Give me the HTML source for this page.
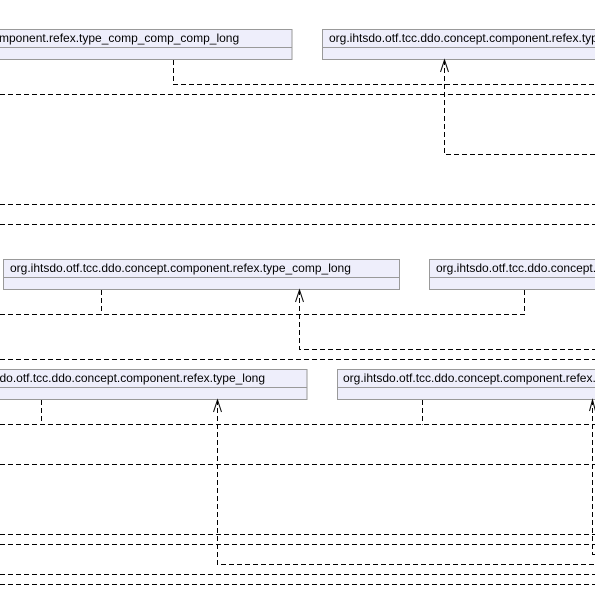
<!DOCTYPE html>
<html><head><meta charset="utf-8"><style>
html,body{margin:0;padding:0;background:#fff;width:595px;height:589px;overflow:hidden}
svg{display:block}
text{font-family:"Liberation Sans",Arial,sans-serif;font-size:12px;fill:#000}
.b{fill:#eeeefb;stroke:#999;stroke-width:1}
.d{fill:none;stroke:#000;stroke-width:1;stroke-dasharray:5,3}
.a{fill:none;stroke:#000;stroke-width:1}
</style></head><body>
<svg width="595" height="589" viewBox="0 0 595 589" xmlns="http://www.w3.org/2000/svg">
<rect class="b" x="-160" y="29.5" width="452" height="30"/>
<line x1="-160" y1="47.5" x2="292" y2="47.5" stroke="#999"/>
<text x="-1" y="42">mponent.refex.type_comp_comp_comp_long</text>
<rect class="b" x="322.5" y="29.5" width="400" height="30"/>
<line x1="322" y1="47.5" x2="600" y2="47.5" stroke="#999"/>
<text x="329" y="42">org.ihtsdo.otf.tcc.ddo.concept.component.refex.type_comp_comp_long</text>
<path class="d" d="M173.5 60 V84.5 H595"/>
<path class="d" d="M0 94.5 H595"/>
<path class="d" d="M444.5 60 V154.5 H595"/>
<path class="a" d="M440.5 72 L444.5 60 L448.5 72"/>
<path class="d" d="M0 204.5 H595"/>
<path class="d" d="M0 224.5 H595"/>
<rect class="b" x="3.5" y="259.5" width="396" height="30"/>
<line x1="3" y1="277.5" x2="399" y2="277.5" stroke="#999"/>
<text x="10" y="272">org.ihtsdo.otf.tcc.ddo.concept.component.refex.type_comp_long</text>
<rect class="b" x="429.5" y="259.5" width="300" height="30"/>
<line x1="429" y1="277.5" x2="600" y2="277.5" stroke="#999"/>
<text x="436" y="272">org.ihtsdo.otf.tcc.ddo.concept.component.refex.type_comp_comp_long</text>
<path class="d" d="M0 314.5 H524.5 V290"/>
<path class="d" d="M101.5 290 V314.5"/>
<path class="d" d="M299.5 290 V349.5 H595"/>
<path class="a" d="M295.5 302 L299.5 290 L303.5 302"/>
<path class="d" d="M0 359.5 H595"/>
<rect class="b" x="-160" y="369.5" width="467" height="30"/>
<line x1="-160" y1="387.5" x2="307" y2="387.5" stroke="#999"/>
<text x="265" y="382" text-anchor="end">org.ihtsdo.otf.tcc.ddo.concept.component.refex.type_long</text>
<rect class="b" x="337.5" y="369.5" width="400" height="30"/>
<line x1="337" y1="387.5" x2="600" y2="387.5" stroke="#999"/>
<text x="343" y="382">org.ihtsdo.otf.tcc.ddo.concept.component.refex.type_comp_long</text>
<path class="d" d="M0 424.5 H595"/>
<path class="d" d="M41.5 400 V424.5"/>
<path class="d" d="M422.5 400 V424.5"/>
<path class="d" d="M217.5 400 V564.5 H595"/>
<path class="a" d="M213.5 412 L217.5 400 L221.5 412"/>
<path class="d" d="M592.5 400 V554.5 H595"/>
<path class="a" d="M589.5 411 L592.5 400 L595.5 411"/>
<path class="d" d="M0 464.5 H595"/>
<path class="d" d="M0 534.5 H595"/>
<path class="d" d="M0 544.5 H595"/>
<path class="d" d="M0 574.5 H595"/>
<path class="d" d="M0 584.5 H595"/>
</svg>
</body></html>
